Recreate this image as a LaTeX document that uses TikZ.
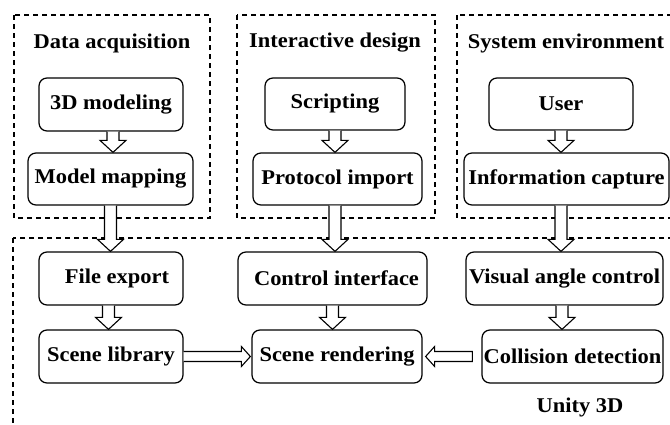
\documentclass[tikz,border=0pt]{standalone}
\usepackage{fontspec}
\setmainfont{Liberation Serif}[FakeStretch=1.07]
\usetikzlibrary{calc}
\tikzset{
  box/.style={draw, rounded corners=8pt, line width=1.25pt, inner sep=0pt, font=\fontsize{21}{24}\selectfont\bfseries},
  title/.style={font=\fontsize{21}{24}\selectfont\bfseries, inner sep=0pt},
  group/.style={draw, line width=1.1pt, dash pattern=on 5pt off 4pt},
  blockarrow/.style={draw, fill=white, line width=1.1pt, line join=miter}
}
\newcommand\vblock[3][0pt]{%
  \draw[blockarrow] let \p1=(#2.south), \p2=(#3.north) in
    (\x1+#1-6pt,\y1) -- (\x1+#1-6pt,\y2+12pt) -- (\x1+#1-13pt,\y2+12pt) -- (\x1+#1,\y2)
    -- (\x1+#1+13pt,\y2+12pt) -- (\x1+#1+6pt,\y2+12pt) -- (\x1+#1+6pt,\y1);}
\begin{document}
\begin{tikzpicture}[x=1pt,y=-1pt]
\useasboundingbox (0,0) rectangle (670,424);
% groups
\draw[group] (14,15) rectangle (210,218);
\draw[group] (237,15) rectangle (435,218);
\draw[group] (457,15) rectangle (690,218);
\draw[group] (13,238) rectangle (690,440);
% titles
\node[title] (t1) at (112,43) {Data acquisition};
\node[title] (t2) at (335,43) {Interactive design};
\node[title] (t3) at (566,43) {System environment};
\node[title] (t4) at (580,407) {Unity 3D};
% boxes
\node[box, minimum width=144pt, minimum height=53pt] (m3d) at (111,104.5) {3D modeling};
\node[box, minimum width=165pt, minimum height=52pt] (mmap) at (110.5,179) {Model mapping};
\node[box, minimum width=140pt, minimum height=52pt] (scr) at (335,104) {Scripting};
\node[box, minimum width=169pt, minimum height=52pt] (prot) at (337.5,179) {Protocol import};
\node[box, minimum width=144pt, minimum height=52pt] (user) at (561,104) {User};
\node[box, minimum width=205pt, minimum height=52pt] (info) at (566.5,179) {Information capture};
\node[box, minimum width=144pt, minimum height=53pt] (fexp) at (111,278.5) {\hspace{12pt}File export};
\node[box, minimum width=144pt, minimum height=53pt] (slib) at (111,356.5) {Scene library};
\node[box, minimum width=189pt, minimum height=53pt] (ctrl) at (332.5,278.5) {\hspace{8pt}Control interface};
\node[box, minimum width=170pt, minimum height=53pt] (srend) at (337,356.5) {Scene rendering};
\node[box, minimum width=197pt, minimum height=53pt] (vis) at (564.5,278.5) {Visual angle control};
\node[box, minimum width=181pt, minimum height=53pt] (coll) at (572.5,356.5) {Collision detection};
% vertical arrows
\vblock[2pt]{m3d}{mmap}
\vblock{mmap}{fexp}
\vblock{scr}{prot}
\vblock[-2.5pt]{prot}{ctrl}
\vblock{user}{info}
\vblock[-5.5pt]{info}{vis}
\vblock[-2.5pt]{fexp}{slib}
\vblock{ctrl}{srend}
\vblock[-2.5pt]{vis}{coll}
% horizontal arrows
\draw[blockarrow] let \p1=(slib.east), \p2=(srend.west) in
  (\x1,\y1+5pt) -- (\x2-10pt,\y1+5pt) -- (\x2-10pt,\y1+10pt) -- (\x2-1pt,\y1)
  -- (\x2-10pt,\y1-10pt) -- (\x2-10pt,\y1-5pt) -- (\x1,\y1-5pt);
\draw[blockarrow] let \p1=(coll.west), \p2=(srend.east) in
  (\x1-9pt,\y1+5pt) -- (\x2+12pt,\y1+5pt) -- (\x2+12pt,\y1+10pt) -- (\x2+3pt,\y1)
  -- (\x2+12pt,\y1-10pt) -- (\x2+12pt,\y1-5pt) -- (\x1-9pt,\y1-5pt) -- cycle;
\end{tikzpicture}
\end{document}
